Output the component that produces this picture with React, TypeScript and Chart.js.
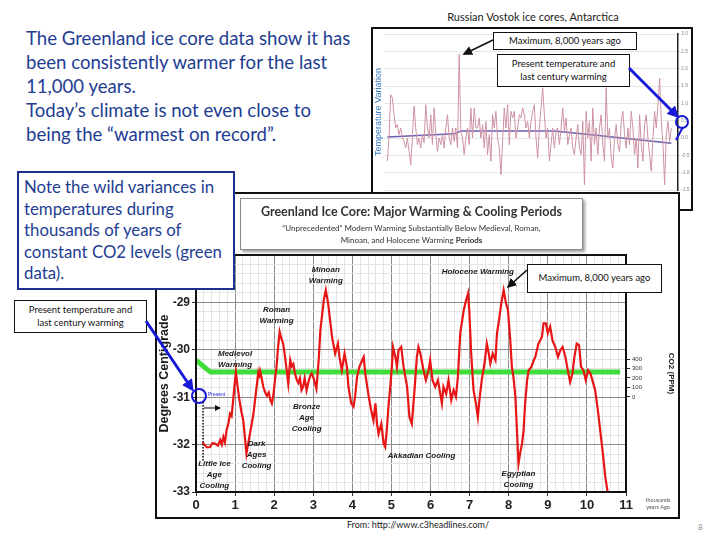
import React, { useEffect, useRef } from "react";
import { Chart, registerables } from "chart.js";
Chart.register(...registerables);

// ---------- Greenland ice core (thousands of years ago, degrees C) ----------
const greenlandX = [
  0.17, 0.19, 0.28, 0.36, 0.42, 0.49, 0.56, 0.62, 0.66, 0.70, 0.74, 0.78, 0.83, 0.87, 0.91, 0.95, 0.99,
  1.02, 1.06, 1.10, 1.16, 1.21, 1.25, 1.29, 1.33, 1.38, 1.47, 1.55, 1.59, 1.61, 1.64, 1.68, 1.72, 1.77,
  1.81, 1.86, 1.90, 1.94, 1.98, 2.02, 2.06, 2.10, 2.14, 2.18, 2.23, 2.27, 2.32, 2.36, 2.41, 2.45, 2.49,
  2.53, 2.58, 2.62, 2.66, 2.70, 2.74, 2.78, 2.83, 2.87, 2.92, 2.96, 3.01, 3.08, 3.14, 3.18, 3.27, 3.32,
  3.38, 3.44, 3.48, 3.56, 3.63, 3.67, 3.73, 3.80, 3.86, 3.90, 3.97, 4.03, 4.07, 4.12, 4.18, 4.25, 4.29,
  4.33, 4.42, 4.48, 4.54, 4.59, 4.63, 4.67, 4.74, 4.80, 4.84, 4.88, 4.93, 4.97, 5.01, 5.04, 5.10, 5.14,
  5.18, 5.25, 5.31, 5.40, 5.46, 5.52, 5.59, 5.65, 5.69, 5.74, 5.82, 5.88, 5.95, 5.99, 6.05, 6.12, 6.19,
  6.25, 6.29, 6.33, 6.40, 6.46, 6.53, 6.59, 6.65, 6.70, 6.76, 6.85, 6.91, 6.96, 6.99, 7.04, 7.10, 7.16,
  7.21, 7.25, 7.31, 7.38, 7.44, 7.49, 7.53, 7.59, 7.66, 7.70, 7.74, 7.81, 7.87, 7.93, 7.98, 8.04, 8.08,
  8.12, 8.17, 8.21, 8.25, 8.29, 8.34, 8.38, 8.42, 8.47, 8.51, 8.58, 8.64, 8.68, 8.76, 8.85, 8.89, 8.95,
  9.00, 9.06, 9.12, 9.19, 9.26, 9.32, 9.38, 9.45, 9.51, 9.57, 9.63, 9.68, 9.74, 9.80, 9.85, 9.91, 9.97,
  10.03, 10.09, 10.14, 10.21, 10.28, 10.34, 10.40, 10.47, 10.53,
];
const greenlandTemp = [
  -31.95, -31.98, -32.06, -32.05, -31.97, -31.98, -32.02, -31.9, -32.0, -31.84, -31.95, -31.7, -31.55, -31.35, -31.4, -31.07, -30.7,
  -30.47, -30.75, -31.0, -31.3, -31.49, -31.84, -32.19, -32.0, -31.77, -31.35, -30.78, -30.5, -30.6, -30.45, -30.6, -30.78, -30.9,
  -30.97, -30.9, -31.05, -31.13, -30.95, -30.64, -30.36, -29.94, -29.62, -29.75, -29.87, -30.1, -30.43, -30.71, -30.22, -30.35, -30.3,
  -30.5, -30.64, -30.7, -30.6, -30.85, -30.78, -30.6, -30.85, -30.7, -30.55, -30.5, -30.6, -30.82, -30.2, -29.6, -28.95, -28.74,
  -29.02, -29.44, -29.73, -30.08, -29.87, -30.15, -30.43, -30.08, -30.36, -30.78, -31.13, -31.2, -30.99, -30.57, -30.36, -30.22, -30.15,
  -30.5, -30.99, -31.27, -31.49, -31.13, -31.56, -31.77, -31.56, -31.98, -32.05, -31.7, -31.13, -30.78, -30.36, -29.94, -30.15, -30.36,
  -30.01, -29.94, -30.36, -30.78, -31.42, -31.56, -30.85, -30.15, -29.94, -30.08, -30.43, -30.64, -30.43, -30.22, -30.64, -30.78, -30.64,
  -30.93, -31.13, -30.78, -30.93, -30.64, -31.06, -30.85, -30.99, -30.57, -29.65, -29.16, -28.95, -28.81, -29.16, -30.08, -30.85, -31.13,
  -31.42, -31.06, -30.64, -30.29, -29.87, -30.08, -30.29, -30.08, -30.22, -29.65, -29.44, -29.02, -28.74, -29.02, -29.16, -29.8, -30.36,
  -30.57, -30.99, -31.7, -32.4, -32.19, -31.98, -31.7, -31.13, -30.64, -30.43, -30.36, -30.22, -30.15, -29.87, -29.73, -29.44, -29.44,
  -29.65, -29.51, -29.8, -29.94, -30.15, -30.01, -29.94, -30.15, -30.43, -30.68, -30.5, -30.15, -29.87, -29.9, -30.36, -30.43, -30.64,
  -30.43, -30.5, -30.64, -30.85, -31.27, -31.7, -32.12, -32.68, -33.0,
];
const co2X = [0, 0.37, 10.85];
const co2Level = [-30.22, -30.47, -30.47];
const co2Ticks = [0, 100, 200, 300, 400];

const periodLabels = [
  { x: 3.32, y: -28.32, lines: ["Minoan", "Warming"] },
  { x: 7.21, y: -28.35, lines: ["Holocene Warming"] },
  { x: 2.06, y: -29.16, lines: ["Roman", "Warming"] },
  { x: 1.0, y: -30.08, lines: ["Medievol", "Warming"] },
  { x: 2.83, y: -31.21, lines: ["Bronze", "Age", "Cooling"] },
  { x: 1.55, y: -31.98, lines: ["Dark", "Ages", "Cooling"] },
  { x: 0.47, y: -32.4, lines: ["Little Ice", "Age", "Cooling"] },
  { x: 5.77, y: -32.23, lines: ["Akkadian Cooling"] },
  { x: 8.25, y: -32.62, lines: ["Egyptian", "Cooling"] },
];

// ---------- Vostok (temperature variation, evenly spaced samples, old -> present) ----------
const vostokTemp = [
  -0.67, 0, 1.25, 1.16, 0.67, 0.29, 0.39, 0.1, 0.29, 0, -0.1, -0.29, 0, -0.39, -0.77, 0, 0.92, 0.29,
  -0.19, 0, -0.29, 0.1, -0.14, 0.96, 0.29, 0, 0.67, -0.19, 0.87, 0.1, -0.39, 0, -0.19, 0.1, -0.29, 0.29,
  0.67, 0, -0.19, 0.29, -0.1, 0.29, -0.29, 2.41, 0.19, 0, -0.48, 0, 0.29, -0.19, 0.87, 0, 0.87, 0.29,
  0.29, 0.58, 0, 0.39, -0.29, 0.48, -0.48, 0.1, -0.67, 0.67, 0.29, 0.77, 0, -0.29, -1.06, -0.1, 0.87, 0.29,
  0.96, -0.19, 0.77, 0.58, 0.77, 0, 0.29, 0.67, 0.58, 0.87, 0.67, 0.29, 0.48, 0, 0.48, 0.77, 0.96, 0,
  -0.58, 0.29, 0.87, 1.45, 0.67, 0, 0.29, -0.67, -0.19, 0.29, -0.29, 0.19, 0.29, -0.19, 0.29, 0.87, 0.19, 0.58,
  -0.19, 0.1, 0.29, -0.29, -0.48, 0, 0.39, -0.29, -0.48, 0.48, -1.35,
  0.77, 0, 0.48, -0.67, 0.87, -0.19, 0.29, -0.48, 0.29, 0.67, -0.19, -0.67, 1.45, 0, 0.29, -0.58, -0.87, 0,
  0.39, -0.19, -0.39, 0.48, 0.77, 0.1, -0.29, 0.29, -0.19, 0.77, 0.29, -0.48, 0, -0.87, 0.67, -0.19, -0.67, 0.39,
  0.67, 0, -0.48, -0.96, 0, 0.77, 0.29, 0.96, 1.73, 0.48, -0.19, -1.35, 0.1, 0.48, -0.1, 0.29,
];
const vostokTrendX = [0, 40, 44, 100, 125, 170];
const vostokTrendY = [0.03, 0.12, 0.2, 0.2, 0.08, -0.15];

const isInt = (v: number) => Math.abs(v - Math.round(v)) < 1e-6;

const labelPlugin = {
  id: "periodLabels",
  afterDatasetsDraw(chart: any) {
    const { ctx, scales } = chart;
    ctx.save();
    ctx.font = "bold italic 8px 'Liberation Sans', Arial, sans-serif";
    ctx.fillStyle = "#1a1a1a";
    ctx.textAlign = "center";
    ctx.textBaseline = "middle";
    periodLabels.forEach((p) => {
      const px = scales.x.getPixelForValue(p.x);
      const py = scales.y.getPixelForValue(p.y);
      p.lines.forEach((t, i) => ctx.fillText(t, px, py + i * 11));
    });
    ctx.restore();
  },
};

const framePlugin = {
  id: "frame",
  afterDraw(chart: any) {
    const a = chart.chartArea;
    const ctx = chart.ctx;
    ctx.save();
    ctx.strokeStyle = "#111";
    ctx.lineWidth = 2;
    ctx.strokeRect(a.left, a.top, a.right - a.left, a.bottom - a.top);
    ctx.restore();
  },
};

function GreenlandChart() {
  const ref = useRef<HTMLCanvasElement>(null);
  useEffect(() => {
    const chart = new Chart(ref.current as HTMLCanvasElement, {
      type: "line",
      data: {
        datasets: [
          {
            data: greenlandX.map((x, i) => ({ x, y: greenlandTemp[i] })),
            borderColor: "#e81515",
            borderWidth: 2.2,
            pointRadius: 0,
            order: 1,
          },
          {
            data: co2X.map((x, i) => ({ x, y: co2Level[i] })),
            borderColor: "#3fdc3a",
            borderWidth: 5,
            pointRadius: 0,
            order: 2,
          },
        ],
      },
      options: {
        animation: false,
        responsive: false,
        layout: { padding: { top: 61, left: 0, right: 0, bottom: 0 } },
        plugins: { legend: { display: false }, tooltip: { enabled: false } },
        scales: {
          x: {
            type: "linear",
            min: 0,
            max: 11,
            ticks: {
              stepSize: 0.2,
              autoSkip: false,
              maxRotation: 0,
              padding: 2,
              color: "#222",
              font: { size: 13, weight: "bold", family: "'Liberation Sans', Arial, sans-serif" },
              callback: (v: any) => (isInt(Number(v)) ? String(Math.round(Number(v))) : ""),
            },
            grid: {
              color: (c: any) => (isInt(c.tick.value) ? "#8c8c8c" : "#e4e4e4"),
              tickColor: (c: any) => (isInt(c.tick.value) ? "#333" : "rgba(0,0,0,0)"),
              tickLength: 4,
            },
            border: { display: true, color: "#111", width: 2 },
            afterFit: (s: any) => {
              s.height = 25;
            },
          },
          y: {
            type: "linear",
            min: -33,
            max: -28,
            ticks: {
              stepSize: 0.2,
              autoSkip: false,
              padding: 2,
              color: "#222",
              font: { size: 12, weight: "bold", family: "'Liberation Sans', Arial, sans-serif" },
              callback: (v: any) => (isInt(Number(v)) ? String(Math.round(Number(v))) : ""),
            },
            grid: {
              color: (c: any) => (isInt(c.tick.value) ? "#8c8c8c" : "#e4e4e4"),
              tickColor: (c: any) => (isInt(c.tick.value) ? "#333" : "rgba(0,0,0,0)"),
              tickLength: 4,
            },
            border: { display: true, color: "#111", width: 2 },
            title: {
              display: true,
              text: "Degrees Centigrade",
              color: "#1a1a1a",
              padding: 0,
              font: { size: 12.5, weight: "bold", family: "'Liberation Sans', Arial, sans-serif" },
            },
            afterFit: (s: any) => {
              s.width = 39;
            },
          },
          co2: {
            type: "linear",
            position: "right",
            min: -1008,
            max: 1503,
            afterBuildTicks: (s: any) => {
              s.ticks = co2Ticks.map((v) => ({ value: v }));
            },
            ticks: { color: "#333", padding: 2, font: { size: 6, family: "'Liberation Sans', Arial" } },
            grid: { drawOnChartArea: false, tickLength: 4, color: "#222" },
            border: { display: false },
            title: {
              display: true,
              text: "CO2 (PPM)",
              color: "#222",
              padding: 2,
              font: { size: 8, weight: "bold", family: "'Liberation Sans', Arial" },
            },
            afterFit: (s: any) => {
              s.width = 52;
            },
          },
        },
      },
      plugins: [labelPlugin, framePlugin],
    } as any);
    return () => chart.destroy();
  }, []);
  return <canvas ref={ref} width={521} height={323} style={{ width: 521, height: 323, display: "block" }} />;
}

function VostokChart() {
  const ref = useRef<HTMLCanvasElement>(null);
  useEffect(() => {
    const chart = new Chart(ref.current as HTMLCanvasElement, {
      type: "line",
      data: {
        datasets: [
          {
            data: vostokTemp.map((y, i) => ({ x: i, y })),
            borderColor: "#cf93a3",
            borderWidth: 1,
            pointRadius: 0,
          },
          {
            data: vostokTrendX.map((x, i) => ({ x, y: vostokTrendY[i] })),
            borderColor: "#6a5eb2",
            borderWidth: 1.5,
            pointRadius: 0,
          },
        ],
      },
      options: {
        animation: false,
        responsive: false,
        layout: { padding: { top: 5, bottom: 19, left: 0, right: 0 } },
        plugins: { legend: { display: false }, tooltip: { enabled: false } },
        scales: {
          x: { type: "linear", min: -2, max: 174, display: false },
          y: {
            position: "right",
            min: -1.5,
            max: 3,
            ticks: { stepSize: 0.5, color: "#888", padding: 1, font: { size: 5 }, callback: (v: any) => Number(v).toFixed(1) },
            grid: { color: "#e6e6e6", tickLength: 2 },
            border: { color: "#222", width: 1.5 },
            afterFit: (s: any) => {
              s.width = 13;
            },
          },
          yl: {
            position: "left",
            min: -1.5,
            max: 3,
            ticks: { display: false },
            grid: { display: false },
            border: { display: false },
            title: {
              display: true,
              text: "Temperature Variation",
              color: "#3b7bc0",
              padding: 0,
              font: { size: 9, family: "'Liberation Sans', Arial" },
            },
            afterFit: (s: any) => {
              s.width = 11;
            },
          },
        },
      },
    } as any);
    return () => chart.destroy();
  }, []);
  return <canvas ref={ref} width={318} height={180} style={{ width: 318, height: 180, display: "block" }} />;
}

const abs = (l: number, t: number, w?: number, h?: number, extra: any = {}) => ({
  position: "absolute" as const,
  left: l,
  top: t,
  width: w,
  height: h,
  boxSizing: "border-box" as const,
  ...extra,
});

const callout = (l: number, t: number, w: number, h: number) =>
  abs(l, t, w, h, {
    border: "1px solid #111",
    background: "#fff",
    fontSize: 9.5,
    lineHeight: "12.5px",
    color: "#111",
    textAlign: "center",
    display: "flex",
    alignItems: "center",
    justifyContent: "center",
    zIndex: 5,
  });

export default function App() {
  const blue = "#1818d8";
  const text = "#233d92";
  return (
    <div
      style={{
        position: "fixed",
        left: 0,
        top: 0,
        width: 720,
        height: 540,
        background: "#fff",
        overflow: "hidden",
        fontFamily: "Lato, 'Open Sans', sans-serif",
      }}
    >
      {/* headline */}
      <div style={abs(26, 26, 345, undefined, { fontSize: 18.6, lineHeight: "24px", color: text, whiteSpace: "nowrap" })}>
        The Greenland ice core data show it has
        <br />
        been consistently warmer for the last
        <br />
        11,000 years.
        <br />
        Today’s climate is not even close to
        <br />
        being the “warmest on record”.
      </div>

      {/* Vostok */}
      <div style={abs(380, 10, 306, 15, { fontSize: 11, textAlign: "center", color: "#222" })}>
        Russian Vostok ice cores, Antarctica
      </div>
      <div style={abs(371, 27, 322, 184, { border: "2px solid #111", background: "#fff", zIndex: 1 })}>
        <VostokChart />
      </div>
      <div style={callout(493, 32, 144, 18)}>Maximum, 8,000 years ago</div>
      <div style={callout(497, 54, 133, 33)}>
        Present temperature and
        <br />
        last century warming
      </div>

      {/* Greenland */}
      <div style={abs(155, 192, 525, 327, { border: "2px solid #111", background: "#fff", zIndex: 2 })}>
        <GreenlandChart />
      </div>
      <div
        style={abs(240, 198, 343, 52, {
          border: "1px solid #8a8a8a",
          boxShadow: "2px 2px 3px #9a9a9a",
          background: "#fff",
          zIndex: 3,
          textAlign: "center",
          color: "#333",
        })}
      >
        <div style={{ fontSize: 12.5, fontWeight: 700, marginTop: 5, lineHeight: "16px" }}>
          Greenland Ice Core: Major Warming &amp; Cooling Periods
        </div>
        <div style={{ fontSize: 8, lineHeight: "12px", marginTop: 2 }}>
          “Unprecedented” Modern Warming Substantially Below Medieval, Roman,
          <br />
          Minoan, and Holocene Warming <b>Periods</b>
        </div>
      </div>
      <div style={abs(640, 497, 36, 16, { fontSize: 5.5, lineHeight: "7px", color: "#555", textAlign: "center", zIndex: 3 })}>
        thousands
        <br />
        years Ago
      </div>
      <div style={callout(527, 264, 135, 29)}>Maximum, 8,000 years ago</div>

      {/* note + left callout */}
      <div
        style={abs(17, 171, 218, 119, {
          border: "2.5px solid #1f2f8f",
          background: "#fff",
          zIndex: 4,
          color: text,
          fontSize: 16.8,
          lineHeight: "21.5px",
          padding: "3px 0 0 5px",
          whiteSpace: "nowrap",
        })}
      >
        Note the wild variances in
        <br />
        temperatures during
        <br />
        thousands of years of
        <br />
        constant CO2 levels (green
        <br />
        data).
      </div>
      <div style={callout(14, 300, 133, 33)}>
        Present temperature and
        <br />
        last century warming
      </div>

      <div style={abs(300, 519, 236, 14, { fontSize: 9, textAlign: "center", color: "#222" })}>
        From: http://www.c3headlines.com/
      </div>
      <div style={abs(698, 522, 12, 12, { fontSize: 8, color: "#888" })}>8</div>

      {/* arrows and markers */}
      <svg width={720} height={540} style={{ position: "absolute", left: 0, top: 0, zIndex: 6, pointerEvents: "none" }}>
        <defs>
          <marker id="ab" markerWidth="6" markerHeight="6" refX="5" refY="3" orient="auto" markerUnits="strokeWidth">
            <path d="M0,0 L6,3 L0,6 z" fill="#111" />
          </marker>
          <marker id="au" markerWidth="4" markerHeight="4" refX="3" refY="2" orient="auto" markerUnits="strokeWidth">
            <path d="M0,0 L4,2 L0,4 z" fill={blue} />
          </marker>
        </defs>
        <line x1={493} y1={40} x2={464} y2={54} stroke="#111" strokeWidth={1.6} markerEnd="url(#ab)" />
        <line x1={527} y1={270} x2={508} y2={287} stroke="#111" strokeWidth={1.6} markerEnd="url(#ab)" />
        <line x1={629} y1={68} x2={677} y2={116} stroke={blue} strokeWidth={3} markerEnd="url(#au)" />
        <circle cx={682} cy={122} r={6} stroke={blue} strokeWidth={2} fill="none" />
        <line x1={676} y1={140} x2={683} y2={127} stroke={blue} strokeWidth={2} />
        <line x1={146} y1={321} x2={192} y2={389} stroke={blue} strokeWidth={3} markerEnd="url(#au)" />
        <circle cx={199} cy={396} r={7} stroke={blue} strokeWidth={2} fill="none" />
        <text x={208} y={396} fontSize={5} fill={blue} fontFamily="Arial">Present</text>
        <line x1={203} y1={402} x2={203} y2={462} stroke="#111" strokeWidth={1.5} strokeDasharray="1.5,1.5" />
        <line x1={204} y1={408} x2={220} y2={408} stroke="#111" strokeWidth={1} markerEnd="url(#ab)" />
      </svg>
    </div>
  );
}
